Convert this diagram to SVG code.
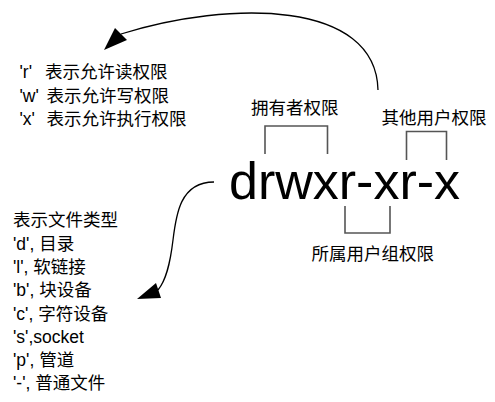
<svg xmlns="http://www.w3.org/2000/svg" width="495" height="402" viewBox="0 0 495 402">
<style>
  .t { font-family: "Liberation Sans", "Noto Sans CJK SC", sans-serif; font-size: 17.5px; fill: #000; }
  .big { font-family: "Liberation Sans", Arial, sans-serif; font-size: 52px; fill: #000; }
  .br { fill: none; stroke: #555; stroke-width: 1.6; }
  .cv { fill: none; stroke: #000; stroke-width: 1.3; }
  .head { fill: #000; stroke: none; }
</style>
<rect width="495" height="402" fill="#fff"/>
<g id="connectors">
  <path class="cv" d="M378 90 C376 0 230 0 121 34"/>
  <polygon class="head" points="104,50 115,28 127,40"/>
  <path class="cv" d="M214 182 C180 182 176 215 173 240 C170 265 166 280 158 290"/>
  <polygon class="head" points="137,299 156,283 161,298"/>
</g>
<g id="perm-legend">
  <text class="t" y="78"><tspan x="19.5">'r'</tspan><tspan x="45">表示允许读权限</tspan></text>
  <text class="t" y="101.5"><tspan x="19.5">'w'</tspan><tspan x="46.5">表示允许写权限</tspan></text>
  <text class="t" y="125"><tspan x="19.5">'x'</tspan><tspan x="46.5">表示允许执行权限</tspan></text>
</g>
<g id="main">
  <text class="big" x="229" y="198.5">drwxr-xr-x</text>
</g>
<g id="owner">
  <text class="t" x="251" y="114">拥有者权限</text>
  <polyline class="br" points="265,154 265,126 327.5,126 327.5,154"/>
</g>
<g id="others">
  <text class="t" x="381.5" y="124">其他用户权限</text>
  <polyline class="br" points="406.5,160 406.5,131.5 446.5,131.5 446.5,160"/>
</g>
<g id="group">
  <polyline class="br" points="345,206 345,233 390,233 390,206"/>
  <text class="t" x="311.5" y="260">所属用户组权限</text>
</g>
<g id="type-legend">
  <text class="t" x="13" y="226">表示文件类型</text>
  <text class="t" x="13" y="249.5">'d', 目录</text>
  <text class="t" x="13" y="273">'l', 软链接</text>
  <text class="t" x="13" y="296">'b', 块设备</text>
  <text class="t" x="13" y="319.5">'c', 字符设备</text>
  <text class="t" x="13" y="343">'s',socket</text>
  <text class="t" x="13" y="366">'p', 管道</text>
  <text class="t" x="13" y="389">'-', 普通文件</text>
</g>
</svg>
